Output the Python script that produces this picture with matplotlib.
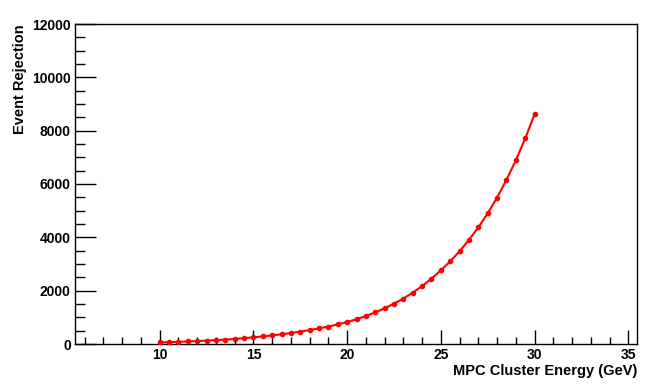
import matplotlib
matplotlib.use("Agg")
import matplotlib.pyplot as plt
from matplotlib.ticker import MultipleLocator

plt.rcParams['font.family'] = ['Liberation Sans', 'DejaVu Sans']

energy = [10.0, 10.5, 11.0, 11.5, 12.0, 12.5, 13.0, 13.5, 14.0, 14.5,
          15.0, 15.5, 16.0, 16.5, 17.0, 17.5, 18.0, 18.5, 19.0, 19.5,
          20.0, 20.5, 21.0, 21.5, 22.0, 22.5, 23.0, 23.5, 24.0, 24.5,
          25.0, 25.5, 26.0, 26.5, 27.0, 27.5, 28.0, 28.5, 29.0, 29.5, 30.0]
rejection = [60, 70, 82, 95, 110, 127, 145, 167, 192, 218,
             250, 285, 322, 365, 412, 464, 521, 585, 655, 735,
             825, 928, 1050, 1185, 1340, 1515, 1705, 1925, 2175, 2450,
             2765, 3100, 3480, 3905, 4375, 4900, 5490, 6160, 6885, 7710, 8620]

xlabel = "MPC Cluster Energy (GeV)"
ylabel = "Event Rejection"

fig = plt.figure(figsize=(6.64, 3.87), dpi=100)
ax = fig.add_axes([75/664, 1 - 344/387, (637.3 - 75)/664, (344 - 24)/387])

ax.plot(energy, rejection, color='red', lw=1.5, marker='o', ms=3, zorder=3)

ax.set_xlim(5.48, 35.48)
ax.set_ylim(0, 12000)
ax.xaxis.set_major_locator(MultipleLocator(5))
ax.xaxis.set_minor_locator(MultipleLocator(1))
ax.yaxis.set_major_locator(MultipleLocator(2000))
ax.yaxis.set_minor_locator(MultipleLocator(500))

for s in ax.spines.values():
    s.set_linewidth(1.0)
    s.set_color('black')

ax.tick_params(axis='x', which='major', direction='in', length=10, width=1, labelsize=10, pad=3, top=False)
ax.tick_params(axis='x', which='minor', direction='in', length=5, width=1, top=False)
ax.tick_params(axis='y', which='major', direction='in', length=15, width=1, labelsize=10, pad=3, right=False)
ax.tick_params(axis='y', which='minor', direction='in', length=7, width=1, right=False)
for lab in ax.get_xticklabels() + ax.get_yticklabels():
    lab.set_fontweight('bold')

ax.set_xlabel(xlabel, fontsize=10.5, fontweight='bold', loc='right', labelpad=1)
ax.set_ylabel(ylabel, fontsize=10.5, fontweight='bold', loc='top', labelpad=4)

fig.savefig('out.png', dpi=100)
